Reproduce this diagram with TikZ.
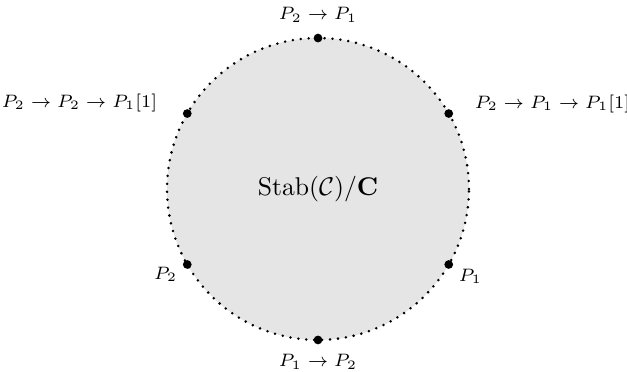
\documentclass[tikz,border=0pt]{standalone}
\usepackage{amsmath,amssymb}
\usetikzlibrary{positioning}
\definecolor{discgrey}{HTML}{E5E5E5}

\begin{document}
\begin{tikzpicture}[x=0.0137cm,y=0.0137cm,font=\fontsize{7.1}{9}\selectfont,
  disc/.style={circle,fill=discgrey,draw=black,line width=1.1pt,line cap=round,
               dash pattern=on 0pt off 3.1pt,minimum size=4.137cm,inner sep=0pt,
               outer sep=0pt,font=\normalsize},
  pt/.style={circle,fill=black,inner sep=0pt,minimum size=3.4pt},
  lbl/.style={inner sep=1pt}]
\useasboundingbox (-318,-182) rectangle (309,189);

\node[disc] (stab) at (0,0) {$\mathrm{Stab}(\mathcal{C})/\mathbf{C}$};

\node[pt] (pN)  at (stab.90)  {};
\node[pt] (pNE) at (stab.30)  {};
\node[pt] (pNW) at (stab.150) {};
\node[pt] (pSW) at (stab.210) {};
\node[pt] (pSE) at (stab.330) {};
\node[pt] (pS)  at (stab.270) {};

\node[lbl] (lN) at ([yshift=23*0.0137cm]pN.center) {$P_2 \to P_1$};
\node[lbl] (lS) at ([yshift=-22*0.0137cm]pS.center) {$P_1 \to P_2$};
\node[lbl,anchor=east] (lNW) at ([shift={(-27,11)}]pNW.center) {$P_2 \to P_2 \to P_1[1]$};
\node[lbl,anchor=west] (lNE) at ([shift={(23,10)}]pNE.center) {$P_2 \to P_1 \to P_1[1]$};
\node[lbl,anchor=east] (lSW) at ([shift={(-7,-10)}]pSW.center) {$P_2$};
\node[lbl,anchor=west] (lSE) at ([shift={(7,-12)}]pSE.center) {$P_1$};
\end{tikzpicture}
\end{document}
